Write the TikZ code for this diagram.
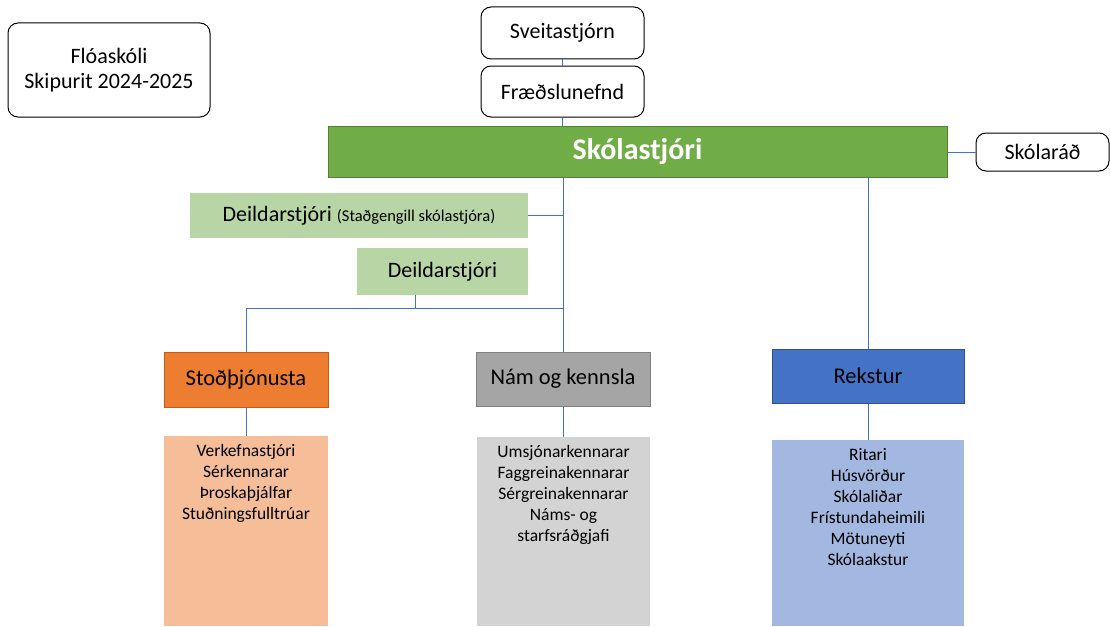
\documentclass[tikz,border=0pt]{standalone}
\usepackage{fontspec}
\setmainfont{Carlito}
\usetikzlibrary{positioning}
\definecolor{leadgreen}{HTML}{70AD47}
\definecolor{leadgreenline}{HTML}{548235}
\definecolor{deildgreen}{HTML}{B8D6A5}
\definecolor{stodorange}{HTML}{ED7D31}
\definecolor{stodorangeline}{HTML}{C55A11}
\definecolor{stodlight}{HTML}{F5BD98}
\definecolor{namgray}{HTML}{A5A5A5}
\definecolor{namgrayline}{HTML}{7F7F7F}
\definecolor{namlight}{HTML}{D3D3D3}
\definecolor{reksblue}{HTML}{4472C4}
\definecolor{reksblueline}{HTML}{2F528F}
\definecolor{rekslight}{HTML}{A2B8E0}
\definecolor{linkblue}{HTML}{4472C4}

\begin{document}
\begin{tikzpicture}[x=1pt,y=-1pt,
    roundbox/.style={draw=black, line width=1pt, rounded corners=10pt, fill=white,
      align=center, font=\fontsize{22}{25}\selectfont},
    headbox/.style={line width=1pt, align=center, font=\fontsize{22.5}{26}\selectfont},
    deildbox/.style={fill=deildgreen, align=center, font=\fontsize{22}{26}\selectfont},
    listbox/.style={inner sep=0pt},
    listtext/.style={align=center, inner sep=2pt, font=\fontsize{17.5}{21}\selectfont},
    link/.style={draw=linkblue, line width=0.8pt}]
  \useasboundingbox (0,0) rectangle (1110,626);

  % Titill
  \node[roundbox, minimum width=202pt, minimum height=94pt] (title) at (109,70)
    {Flóaskóli\\Skipurit 2024-2025};

  % Efsta lag
  \node[roundbox, minimum width=163pt, minimum height=52pt] (sveit) at (562.5,33) {Sveitastjórn};
  \node[roundbox, minimum width=163pt, minimum height=51pt] (fraed) at (562.5,91.5) {Fræðslunefnd};
  \node[headbox, fill=leadgreen, draw=leadgreenline, text=white,
    minimum width=619pt, minimum height=51pt,
    font=\bfseries\fontsize{30}{34}\selectfont] (stjori) at (637.5,151.5) {Skólastjóri};
  \node[roundbox, minimum width=133pt, minimum height=38pt] (rad) at (1042.5,152) {Skólaráð};

  % Deildarstjórar
  \node[deildbox, minimum width=338pt, minimum height=45pt] (deild1) at (359,215.5)
    {Deildarstjóri {\fontsize{16.5}{18}\selectfont (Staðgengill skólastjóra)}};
  \node[deildbox, minimum width=171pt, minimum height=47pt] (deild2) at (442.5,271.5) {Deildarstjóri};

  % Svið
  \node[headbox, fill=stodorange, draw=stodorangeline, minimum width=164pt, minimum height=55pt]
    (stod) at (246,379.5) {Stoðþjónusta};
  \node[headbox, fill=namgray, draw=namgrayline, minimum width=174pt, minimum height=54pt]
    (nam) at (563,379) {Nám og kennsla};
  \node[headbox, fill=reksblue, draw=reksblueline, minimum width=192pt, minimum height=54pt]
    (rekstur) at (868,376) {Rekstur};

  % Starfsfólk
  \node[listbox, fill=stodlight, minimum width=164pt, minimum height=190pt] (stodlist) at (246,531) {};
  \node[listtext, below=6pt of stodlist.north] (stodtext)
    {Verkefnastjóri\\Sérkennarar\\Þroskaþjálfar\\Stuðningsfulltrúar};
  \node[listbox, fill=namlight, minimum width=173pt, minimum height=189pt] (namlist) at (563.5,531.5) {};
  \node[listtext, below=6pt of namlist.north] (namtext)
    {Umsjónarkennarar\\Faggreinakennarar\\Sérgreinakennarar\\Náms- og\\starfsráðgjafi};
  \node[listbox, fill=rekslight, minimum width=192pt, minimum height=186pt] (rekslist) at (868,533) {};
  \node[listtext, below=6pt of rekslist.north] (rekstext)
    {Ritari\\Húsvörður\\Skólaliðar\\Frístundaheimili\\Mötuneyti\\Skólaakstur};

  % Tengingar
  \coordinate (split) at (415,308);
  \draw[link] (sveit) -- (fraed);
  \draw[link] (fraed) -- (fraed |- stjori.north);
  \draw[link] (stjori.east |- rad) -- (rad.west);
  \draw[link] (stjori.south -| nam.north) -- (nam.north);
  \draw[link] (deild1.east) -- (deild1.east -| nam.north);
  \draw[link] (deild2.south -| split) -- (split);
  \draw[link] (nam.north |- split) -| (stod.north);
  \draw[link] (stjori.south -| rekstur.north) -- (rekstur.north);
  \draw[link] (stod.south) -- (stod.south |- stodlist.north);
  \draw[link] (nam.south) -- (nam.south |- namlist.north);
  \draw[link] (rekstur.south) -- (rekstur.south |- rekslist.north);
\end{tikzpicture}
\end{document}
